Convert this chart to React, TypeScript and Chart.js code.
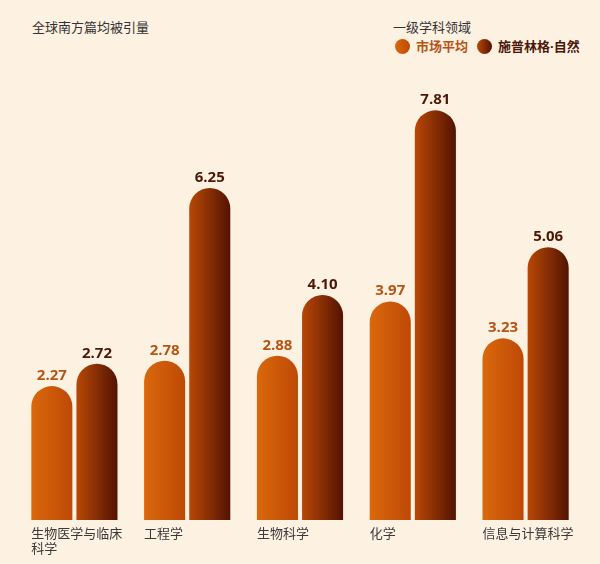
import { useEffect, useRef } from "react"
import { Chart, registerables } from "chart.js"

Chart.register(...registerables)

// Data
const categories = [
  ["生物医学与临床", "科学"],
  ["工程学"],
  ["生物科学"],
  ["化学"],
  ["信息与计算科学"],
]
const marketAvg = [2.27, 2.78, 2.88, 3.97, 3.23]
const springerNature = [2.72, 6.25, 4.1, 7.81, 5.06]
const seriesNames = ["市场平均", "施普林格·自然"]

const BG = "#FDF1E2"
const CAT_PCT = 0.8
const BAR_PCT = 0.91
// bars begin a little below zero so the rounded cap sits on top of the value
const BASE = -0.42

const gradientStops = [
  ["#DA680C", "#BE4906"],
  ["#B84806", "#531302"],
]
const labelColors = ["#B55414", "#4B1808"]

const CJK = '"Noto Sans CJK SC", "Noto Sans", sans-serif'

function barGradient(ctx: any) {
  const chart = ctx.chart
  const x = chart.scales?.x
  const ds = ctx.datasetIndex
  if (!x || ctx.dataIndex === undefined) return gradientStops[ds][0]
  const slot = (x.width / categories.length) * CAT_PCT / 2
  const barW = slot * BAR_PCT
  const center = x.getPixelForValue(ctx.dataIndex) + (ds - 0.5) * slot
  const left = center - barW / 2
  const right = center + barW / 2
  if (!isFinite(left) || !isFinite(right)) return gradientStops[ds][0]
  const g = chart.ctx.createLinearGradient(left, 0, right, 0)
  g.addColorStop(0, gradientStops[ds][0])
  g.addColorStop(1, gradientStops[ds][1])
  return g
}

const labelPlugin = {
  id: "barLabels",
  afterDatasetsDraw(chart: any) {
    const ctx = chart.ctx
    ctx.save()
    // value labels above each bar
    chart.data.datasets.forEach((ds: any, di: number) => {
      const meta = chart.getDatasetMeta(di)
      meta.data.forEach((el: any, i: number) => {
        ctx.font = 'bold 15px "Open Sans", sans-serif'
        ctx.fillStyle = labelColors[di]
        ctx.textAlign = "center"
        ctx.textBaseline = "alphabetic"
        ctx.fillText((ds.data[i] as number).toFixed(2), el.x, el.y - 6)
      })
    })
    // category labels, left aligned under each group
    const first = chart.getDatasetMeta(0)
    const bottom = chart.scales.y.getPixelForValue(BASE)
    first.data.forEach((el: any, i: number) => {
      const left = el.x - el.width / 2
      ctx.font = "13px " + CJK
      ctx.fillStyle = "#3A3A3A"
      ctx.textAlign = "left"
      ctx.textBaseline = "middle"
      categories[i].forEach((line, li) => {
        ctx.fillText(line, left, bottom + 13 + li * 15)
      })
    })
    ctx.restore()
  },
}

export default function App() {
  const chartRef = useRef<HTMLCanvasElement>(null)
  const chartInstance = useRef<Chart | null>(null)

  useEffect(() => {
    document.body.style.margin = "0"
    if (!chartRef.current) return
    if (chartInstance.current) chartInstance.current.destroy()
    const ctx = chartRef.current.getContext("2d")
    if (!ctx) return

    const series = [marketAvg, springerNature]

    chartInstance.current = new Chart(ctx, {
      type: "bar",
      data: {
        labels: categories.map((c) => c.join("")),
        datasets: series.map((values, i) => ({
          label: seriesNames[i],
          data: values,
          base: BASE,
          backgroundColor: barGradient,
          borderWidth: 0,
          borderSkipped: "start",
          borderRadius: { topLeft: 100, topRight: 100, bottomLeft: 0, bottomRight: 0 },
          categoryPercentage: CAT_PCT,
          barPercentage: BAR_PCT,
        })),
      },
      options: {
        animation: false,
        responsive: true,
        maintainAspectRatio: false,
        layout: { padding: { left: 18, right: 18, top: 76, bottom: 44 } },
        scales: {
          x: { display: false, grid: { display: false } },
          y: { display: false, min: BASE, max: 8.5 },
        },
        plugins: {
          legend: { display: false },
          tooltip: { enabled: false },
        },
      },
      plugins: [labelPlugin],
    })

    return () => {
      if (chartInstance.current) {
        chartInstance.current.destroy()
        chartInstance.current = null
      }
    }
  }, [])

  const dot = (i: number) => ({
    display: "inline-block",
    width: 15,
    height: 15,
    borderRadius: "50%",
    background: `linear-gradient(to right, ${gradientStops[i][0]}, ${gradientStops[i][1]})`,
    marginRight: 6,
    verticalAlign: "middle",
  })

  // render the middle dot narrow, as in the reference
  const [snA, snB] = seriesNames[1].split("·")

  return (
    <div style={{ position: "relative", width: 600, height: 564, background: BG, fontFamily: CJK }}>
      <div style={{ position: "absolute", left: 32, top: 17, fontSize: 13, color: "#333" }}>
        全球南方篇均被引量
      </div>
      <div style={{ position: "absolute", left: 393, top: 17, fontSize: 13, color: "#333" }}>
        一级学科领域
      </div>
      <div style={{ position: "absolute", left: 395, top: 35, fontSize: 13, fontWeight: "bold", whiteSpace: "nowrap", lineHeight: "20px" }}>
        <span style={dot(0)} />
        <span style={{ color: labelColors[0], verticalAlign: "middle", marginRight: 9 }}>{seriesNames[0]}</span>
        <span style={dot(1)} />
        <span style={{ color: labelColors[1], verticalAlign: "middle" }}>
          {snA}
          <span style={{ fontFamily: '"Open Sans", sans-serif' }}>·</span>
          {snB}
        </span>
      </div>
      <div style={{ position: "absolute", left: 0, top: 0, width: 600, height: 564 }}>
        <canvas ref={chartRef} />
      </div>
    </div>
  )
}
